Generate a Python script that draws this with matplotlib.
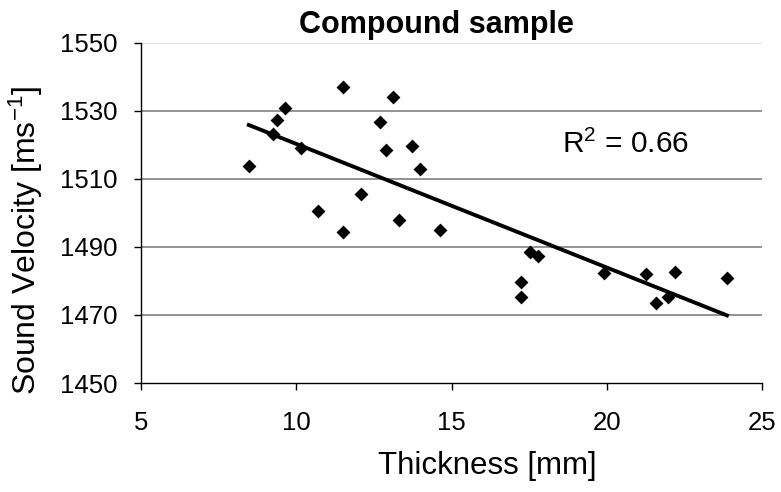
import numpy as np
import matplotlib.pyplot as plt

plt.rcParams['font.family'] = ['Liberation Sans', 'DejaVu Sans']
plt.rcParams['mathtext.fontset'] = 'custom'
plt.rcParams['mathtext.rm'] = 'Liberation Sans'
plt.rcParams['mathtext.it'] = 'Liberation Sans:italic'
plt.rcParams['mathtext.bf'] = 'Liberation Sans:bold'

thickness = [8.47, 9.26, 9.38, 9.64, 10.14, 10.69, 11.52, 11.49, 12.07, 12.69,
             12.88, 13.10, 13.30, 13.72, 13.99, 14.62, 17.52, 17.80, 17.25, 17.25,
             19.90, 21.25, 21.58, 21.97, 22.21, 23.87]
velocity = [1513.9, 1523.1, 1527.3, 1530.9, 1519.1, 1500.5, 1537.1, 1494.4, 1505.6, 1526.6,
            1518.4, 1533.9, 1497.8, 1519.6, 1512.9, 1495.1, 1488.4, 1487.3, 1479.6, 1475.3,
            1482.3, 1482.1, 1473.4, 1475.3, 1482.6, 1480.9]
x_ticks = [5, 10, 15, 20, 25]
y_ticks = [1450, 1470, 1490, 1510, 1530, 1550]

fig = plt.figure(figsize=(7.81, 4.92), dpi=100)
ax = fig.add_axes([0.1806, 0.2215, 0.7951, 0.6917])

ax.set_xlim(5, 25)
ax.set_ylim(1450, 1550)
ax.set_xticks(x_ticks)
ax.set_yticks(y_ticks)

for y in y_ticks[1:-1]:
    ax.axhline(y, color='#808080', lw=1.2, zorder=1)
ax.axhline(1550, color='#d9d9d9', lw=1.2, zorder=1)

ax.scatter(thickness, velocity, marker='D', s=50, color='black', lw=0, zorder=3)

# linear trend line
k, b = np.polyfit(thickness, velocity, 1)
xs = np.array([min(thickness), max(thickness)])
ax.plot(xs, k * xs + b, color='black', lw=2.8, zorder=4)

ax.text(18.57, 1517.5, 'R$^2$ = 0.66', fontsize=21.5, va='baseline', ha='left')

for s in ['top', 'right']:
    ax.spines[s].set_visible(False)
ax.spines['left'].set_linewidth(1)
ax.spines['bottom'].set_linewidth(1)
ax.tick_params(axis='both', direction='out', length=5, width=1, labelsize=18.5)
ax.tick_params(axis='y', pad=12)
ax.tick_params(axis='x', pad=15)

ax.set_xlabel('Thickness [mm]', fontsize=22.5)
ax.set_ylabel('Sound Velocity [ms$^{-1}$]', fontsize=23)
ax.xaxis.set_label_coords(0.558, -0.2)
ax.yaxis.set_label_coords(-0.155, 0.419)

fig.text(0.559, 0.933, 'Compound sample', fontsize=22, fontweight='bold',
         ha='center', va='baseline')

fig.savefig('out.png', dpi=100)
